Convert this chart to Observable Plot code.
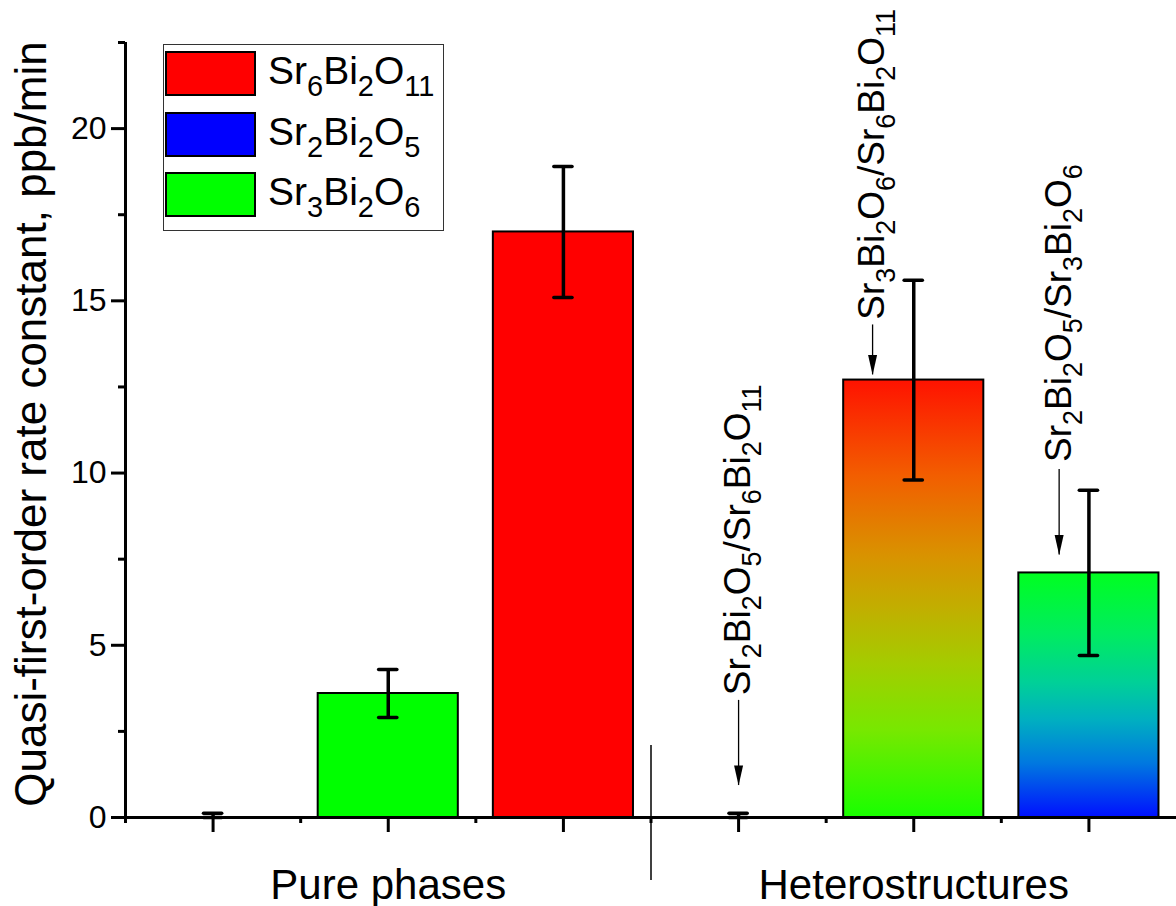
<!DOCTYPE html>
<html><head><meta charset="utf-8">
<script src="https://cdn.jsdelivr.net/npm/d3@7"></script>
<script src="https://cdn.jsdelivr.net/npm/@observablehq/plot@0.6"></script>
<style>
html,body{margin:0;padding:0;background:#fff;}
#wrap{position:relative;width:1176px;height:906px;overflow:hidden;font-family:"Liberation Sans",Arial,sans-serif;}
#legend{position:absolute;left:163px;top:44px;width:281px;height:187px;box-sizing:border-box;border:1.5px solid #333;background:#fff;}
.row{position:absolute;left:1px;height:45px;display:flex;align-items:center;white-space:nowrap;}
.sw{width:91px;height:45px;box-sizing:border-box;border:2px solid #000;}
.lab{margin-left:12px;font-size:39px;line-height:1;color:#000;position:relative;top:-3px;}
.lab sub{font-size:29px;vertical-align:baseline;position:relative;top:12px;line-height:0;}
</style>
</head><body>
<div id="wrap"><div id="chart"></div><div id="legend"></div></div>
<script>
// ---- data ----
const samples = ["Sr2Bi2O5","Sr3Bi2O6","Sr6Bi2O11","Sr2Bi2O5/Sr6Bi2O11","Sr3Bi2O6/Sr6Bi2O11","Sr2Bi2O5/Sr3Bi2O6"];
const positions = [1,2,3,4,5,6];
const rates = [0, 3.6, 17.0, 0, 12.7, 7.1];
const errLow = [0, 2.9, 15.1, 0, 9.8, 4.7];
const errHigh = [0.12, 4.3, 18.9, 0.12, 15.6, 9.5];
const groups = ["Pure phases","Heterostructures"];
const groupPos = [2, 5];
const yTicks = [0,5,10,15,20];
const yMinor = [2.5,7.5,12.5,17.5,22.5];
const xMinor = [0.5,1.5,2.5,3.5,4.5,5.5];
const yTitle = "Quasi-first-order rate constant, ppb/min";
const legendLabels = ["Sr6Bi2O11","Sr2Bi2O5","Sr3Bi2O6"];
const annLabels = ["Sr2Bi2O5/Sr6Bi2O11","Sr3Bi2O6/Sr6Bi2O11","Sr2Bi2O5/Sr3Bi2O6"];
const annX = [4, 4.765, 5.83];
const annTextY = [3.55, 14.45, 10.32];
const annArrowFrom = [3.4, 14.3, 10.1];
const annArrowTo = [0.93, 12.85, 7.62];
const dividerX = [3.5];
const dividerY = [-1.83, 2.09];

// ---- styles ----
const fillOf = {
  "Sr2Bi2O5":"#0000ff","Sr3Bi2O6":"#00ff00","Sr6Bi2O11":"#ff0000",
  "Sr2Bi2O5/Sr6Bi2O11":"none","Sr3Bi2O6/Sr6Bi2O11":"url(#gradRG)","Sr2Bi2O5/Sr3Bi2O6":"url(#gradGB)"
};
const legendFill = ["#ff0000","#0000ff","#00ff00"];
const FONT = "'Liberation Sans', Arial, sans-serif";
const BW = 0.4, CAP = 0.052;

const table = samples.map((s,i)=>({sample:s,pos:positions[i],rate:rates[i],lo:errLow[i],hi:errHigh[i]}));
const ann = annLabels.map((l,i)=>({label:l,x:annX[i],yText:annTextY[i],y1:annArrowFrom[i],y2:annArrowTo[i]}));
const arrowHead = {draw(ctx){ctx.moveTo(0,0);ctx.lineTo(-4.5,-20);ctx.lineTo(4.5,-20);ctx.closePath();}};

const barMarks = table.filter(d=>d.rate>0).map(d =>
  Plot.rectY([d], {x1:e=>e.pos-BW, x2:e=>e.pos+BW, y1:0, y2:"rate", fill:fillOf[d.sample], stroke:"#000", strokeWidth:2}));

const chart = Plot.plot({
  width:1176, height:906, marginLeft:125, marginRight:0, marginTop:42, marginBottom:89,
  x:{domain:[0.5,6.5], axis:null},
  y:{domain:[0,22.5], axis:null},
  style:{fontFamily:FONT, background:"white", overflow:"visible", color:"#000"},
  marks:[
    ...barMarks,
    Plot.ruleX(table, {x:"pos", y1:"lo", y2:"hi", strokeWidth:3.5}),
    Plot.ruleY(table, {y:"hi", x1:d=>d.pos-CAP, x2:d=>d.pos+CAP, strokeWidth:3.5, strokeLinecap:"round"}),
    Plot.ruleY(table, {y:"lo", x1:d=>d.pos-CAP, x2:d=>d.pos+CAP, strokeWidth:3.5, strokeLinecap:"round"}),
    Plot.axisY(yTicks, {anchor:"left", tickSize:14, tickPadding:5, fontSize:32, strokeWidth:3, label:null}),
    Plot.axisY(yMinor, {anchor:"left", tickSize:7, tickFormat:()=>"", strokeWidth:3, label:null}),
    Plot.axisX(positions, {anchor:"bottom", tickSize:15, tickFormat:()=>"", strokeWidth:3, label:null}),
    Plot.axisX(xMinor, {anchor:"bottom", tickSize:6, tickFormat:()=>"", strokeWidth:3, label:null}),
    Plot.ruleX([0.5], {strokeWidth:3}),
    Plot.ruleY([0], {strokeWidth:3}),
    Plot.ruleX(dividerX, {y1:dividerY[0], y2:dividerY[1], strokeWidth:1.5}),
    Plot.ruleX(ann, {x:"x", y1:"y1", y2:"y2", strokeWidth:1.3}),
    Plot.dot(ann, {x:"x", y:"y2", symbol:arrowHead, fill:"#000", stroke:"none"}),
    Plot.text(ann, {x:"x", y:"yText", text:"label", rotate:-90, textAnchor:"start", fontSize:37, fill:"#000"}),
    Plot.text([yTitle], {text:d=>d, frameAnchor:"left", textAnchor:"middle", dx:-94, dy:-6, rotate:-90, fontSize:44, fill:"#000"}),
    Plot.text(groups, {x:(d,i)=>groupPos[i], y:0, dy:81, text:d=>d, lineAnchor:"bottom", fontSize:42, fill:"#000"})
  ]
});
document.getElementById("chart").appendChild(chart);

// gradients
const svg = d3.select(chart);
const defs = svg.insert("defs", ":first-child");
function grad(id, stops){
  const g = defs.append("linearGradient").attr("id",id).attr("x1",0).attr("y1",0).attr("x2",0).attr("y2",1);
  stops.forEach(([o,c])=>g.append("stop").attr("offset",o).attr("stop-color",c));
}
grad("gradRG", [[0,"#ff1200"],[0.22,"#f25e00"],[0.4,"#d99200"],[0.52,"#c2ae00"],[0.65,"#a4cc00"],[0.8,"#78e800"],[1,"#18ff00"]]);
grad("gradGB", [[0,"#00ff20"],[0.25,"#00ec60"],[0.45,"#00d098"],[0.6,"#00b0c0"],[0.78,"#0078e0"],[1,"#0010ff"]]);

// subscripts in formula labels
const SUBSHIFT = 11, SUBSIZE = 27;
svg.selectAll("text").each(function(){
  const s = this.textContent;
  if (!/Sr/.test(s)) return;
  while (this.firstChild) this.removeChild(this.firstChild);
  let down = false;
  s.match(/\d+|\D+/g).forEach(p=>{
    const t = document.createElementNS("http://www.w3.org/2000/svg","tspan");
    if (/^\d+$/.test(p)) { t.setAttribute("font-size", SUBSIZE); if (!down){t.setAttribute("dy", SUBSHIFT); down = true;} }
    else if (down) { t.setAttribute("dy", -SUBSHIFT); down = false; }
    t.textContent = p;
    this.appendChild(t);
  });
});

// legend
const leg = document.getElementById("legend");
const rowTops = [6, 67, 127];
legendLabels.forEach((l,i)=>{
  const r = document.createElement("div");
  r.className = "row"; r.style.top = rowTops[i] + "px";
  r.innerHTML = `<div class="sw" style="background:${legendFill[i]}"></div><span class="lab">${l.replace(/(\d+)/g,"<sub>$1</sub>")}</span>`;
  leg.appendChild(r);
});
</script>
</body></html>
